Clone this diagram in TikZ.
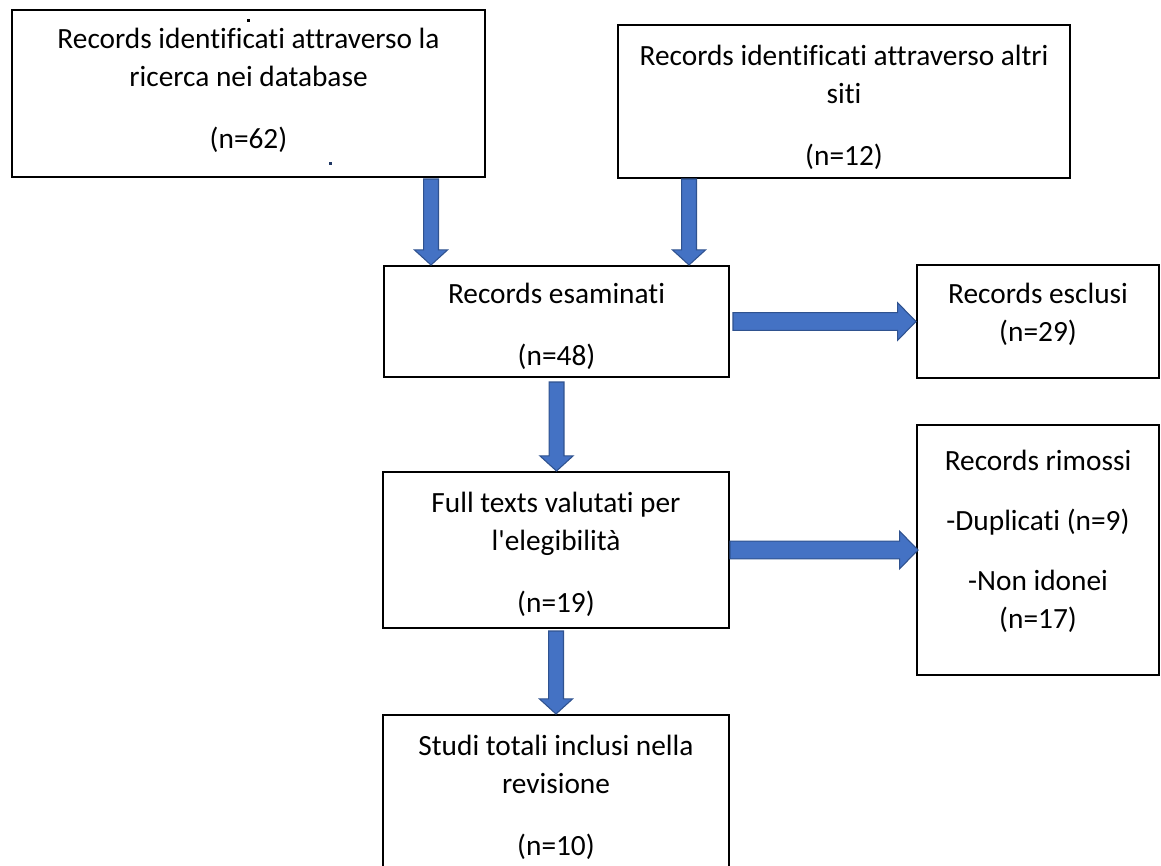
\documentclass[tikz,border=0pt]{standalone}
\usepackage{fontspec}
\setmainfont{Carlito}[Ligatures={NoCommon,TeXOff}]
\usetikzlibrary{calc}

\definecolor{arrowfill}{HTML}{4472C4}
\definecolor{arrowedge}{HTML}{2F528F}
\definecolor{dotblue}{HTML}{203864}

% block arrows, start point -> tip
\newcommand{\fatdown}[2]{%
  \draw[fatarrow] let \p1=(#1), \p2=(#2) in
    (\x1-5.6pt,\y1) -- (\x1+5.6pt,\y1) -- (\x1+5.6pt,\y2+11.3pt)
    -- (\x1+12.4pt,\y2+11.3pt) -- (\x1,\y2) -- (\x1-12.4pt,\y2+11.3pt)
    -- (\x1-5.6pt,\y2+11.3pt) -- cycle;}
\newcommand{\fatright}[2]{%
  \draw[fatarrow] let \p1=(#1), \p2=(#2) in
    (\x1,\y1-6.6pt) -- (\x2-13.8pt,\y1-6.6pt) -- (\x2-13.8pt,\y1-14.1pt)
    -- (\x2,\y1) -- (\x2-13.8pt,\y1+14.1pt) -- (\x2-13.8pt,\y1+6.6pt)
    -- (\x1,\y1+6.6pt) -- cycle;}

\begin{document}
\begin{tikzpicture}[x=0.75pt,y=-0.75pt,
  box/.style={draw,line width=1.5pt,inner sep=0pt},
  txt/.style={align=center,inner sep=0pt,font=\fontsize{22}{28.5}\selectfont},
  fatarrow/.style={fill=arrowfill,draw=arrowedge,line width=0.8pt,line join=miter}]
\useasboundingbox (0,0) rectangle (1161,865);
\clip (0,0) rectangle (1161,865);

% frames
\foreach \n/\cx/\cy/\w/\h in {
  recA/248.5/93.5/473/167,
  recB/844/101.5/452/153,
  recC/556.5/321.5/345/111,
  recD/556/550/346/156,
  recE/1038/321.5/242/113,
  recF/1038/550/242/250,
  recG/556/797.5/346/165}{
  \node[box,minimum width=\w*0.75pt,minimum height=\h*0.75pt] (\n) at (\cx,\cy) {};
}

% texts
\node[txt] (recA-t) at (248.5,90) {Records identificati attraverso la\\ricerca nei database\\[18pt](n=62)};
\node[txt] (recB-t) at (844,107.5) {Records identificati attraverso altri\\siti\\[18pt](n=12)};
\node[txt] (recC-t) at (556.5,326) {Records esaminati\\[18pt](n=48)};
\node[txt] (recD-t) at (556,554) {Full texts valutati per\\l'elegibilità\\[18pt](n=19)};
\node[txt] (recE-t) at (1038,314) {Records esclusi\\(n=29)};
\node[txt] (recF-t) at (1038,541.5) {Records rimossi\\[16.5pt]-Duplicati (n=9)\\[16.5pt]-Non idonei\\(n=17)};
\node[txt] (recG-t) at (556,797) {Studi totali inclusi nella\\revisione\\[18pt](n=10)};

% stray dots
\fill (247,19) rectangle (250,22);
\fill[dotblue] (329,162) rectangle (332,165);

% arrows
\coordinate (a-out) at ($(recA.south east)+(-55,1)$);
\coordinate (b-out) at ($(recB.south west)+(72,0)$);
\fatdown{a-out}{a-out |- recC.north}
\fatdown{b-out}{b-out |- recC.north}
\fatdown{$(recC.south)+(0,4)$}{recD.north}
\fatdown{$(recD.south)+(0,2)$}{recG.north}
\fatright{$(recC.east)+(3,0)$}{recE.west}
\fatright{recD.east}{$(recF.west)+(2,0)$}
\end{tikzpicture}
\end{document}
